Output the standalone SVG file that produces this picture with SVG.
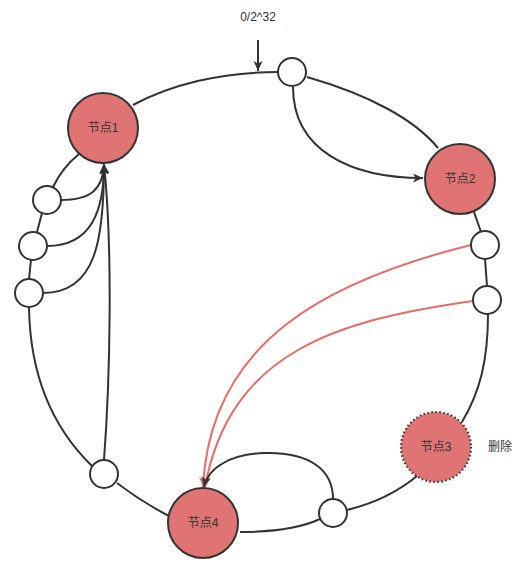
<svg xmlns="http://www.w3.org/2000/svg" width="527" height="568" viewBox="0 0 527 568">
<style>
.ring{fill:none;stroke:#333;stroke-width:2}
.edge{fill:none;stroke:#333;stroke-width:2}
.red{fill:none;stroke:#EA6B66;stroke-width:2}
.node{fill:#E07474;stroke:#333;stroke-width:2}
.del{fill:#E07474;stroke:#333;stroke-width:2.2;stroke-dasharray:1.5 2.5}
.slot{fill:#fff;stroke:#333;stroke-width:2}
text{font-family:"Liberation Sans","Noto Sans CJK SC",sans-serif;font-size:12px;fill:#333;text-anchor:middle;dominant-baseline:central}
</style>
<defs>
<marker id="ah" markerUnits="userSpaceOnUse" markerWidth="12" markerHeight="10" refX="10" refY="4.5" orient="auto">
<path d="M0,0 L10,4.5 L0,9 L2.5,4.5 z" fill="#333"/>
</marker>
<marker id="ahr" markerUnits="userSpaceOnUse" markerWidth="12" markerHeight="10" refX="10" refY="4.5" orient="auto">
<path d="M0,0 L10,4.5 L0,9 L2.5,4.5 z" fill="#EA6B66"/>
</marker>
</defs>
<g id="ring">
<path class="ring" d="M133,105 C170,85 220,72 278,72"/>
<path class="ring" d="M307,77 C370,95 415,120 438,148"/>
<path class="ring" d="M474,212 L481,232"/>
<path class="ring" d="M485,259 L487,286"/>
<path class="ring" d="M488,314 C488,360 480,392 462,422"/>
<path class="ring" d="M417,476 Q388,500 347,510"/>
<path class="ring" d="M240,532 Q292,532 320,519"/>
<path class="ring" d="M117,483 Q142,502 169,516"/>
<path class="ring" d="M29,307 C30,380 55,430 92,466"/>
<path class="ring" d="M31,260 L29,279"/>
<path class="ring" d="M42,213 L37,232"/>
<path class="ring" d="M53,187 Q62,168 79,154"/>
</g>
<g id="connectors">
<path class="edge" d="M258,40 L258,71" marker-end="url(#ah)"/>
<path class="edge" d="M293,87 C293,150 350,178 423,178" marker-end="url(#ah)"/>
<path class="edge" d="M61,200 C90,200 103,190 104,164" marker-end="url(#ah)"/>
<path class="edge" d="M47,246 C92,246 104,210 104,164" marker-end="url(#ah)"/>
<path class="edge" d="M43,293 C96,293 104,240 104,164" marker-end="url(#ah)"/>
<path class="edge" d="M104,460 C110,380 113,250 104,164" marker-end="url(#ah)"/>
<path class="red" d="M471,245 C330,280 210,340 203,487" marker-end="url(#ahr)"/>
<path class="red" d="M473,301 C340,320 230,350 205,487" marker-end="url(#ahr)"/>
<path class="edge" d="M333,499 C333,470 310,452 265,453 C230,454 208,468 204,487" marker-end="url(#ah)"/>
</g>
<g id="label-top"><text x="258" y="17">0/2^32</text></g>
<g id="node1"><circle class="node" cx="103" cy="128" r="35"/><text x="103" y="128">节点1</text></g>
<g id="node2"><circle class="node" cx="460" cy="179" r="35"/><text x="460" y="179">节点2</text></g>
<g id="node3"><circle class="del" cx="436" cy="447" r="35"/><text x="436" y="447">节点3</text></g>
<g id="label-del"><text x="500" y="447">删除</text></g>
<g id="node4"><circle class="node" cx="203" cy="523" r="35"/><text x="203" y="523">节点4</text></g>
<g id="slot-top"><circle class="slot" cx="292" cy="72" r="14"/></g>
<g id="slot-r1"><circle class="slot" cx="485" cy="245" r="14"/></g>
<g id="slot-r2"><circle class="slot" cx="487" cy="300" r="14"/></g>
<g id="slot-br"><circle class="slot" cx="333" cy="513" r="14"/></g>
<g id="slot-bl"><circle class="slot" cx="104" cy="474" r="14"/></g>
<g id="slot-l1"><circle class="slot" cx="47" cy="200" r="14"/></g>
<g id="slot-l2"><circle class="slot" cx="33" cy="246" r="14"/></g>
<g id="slot-l3"><circle class="slot" cx="29" cy="293" r="14"/></g>
</svg>
